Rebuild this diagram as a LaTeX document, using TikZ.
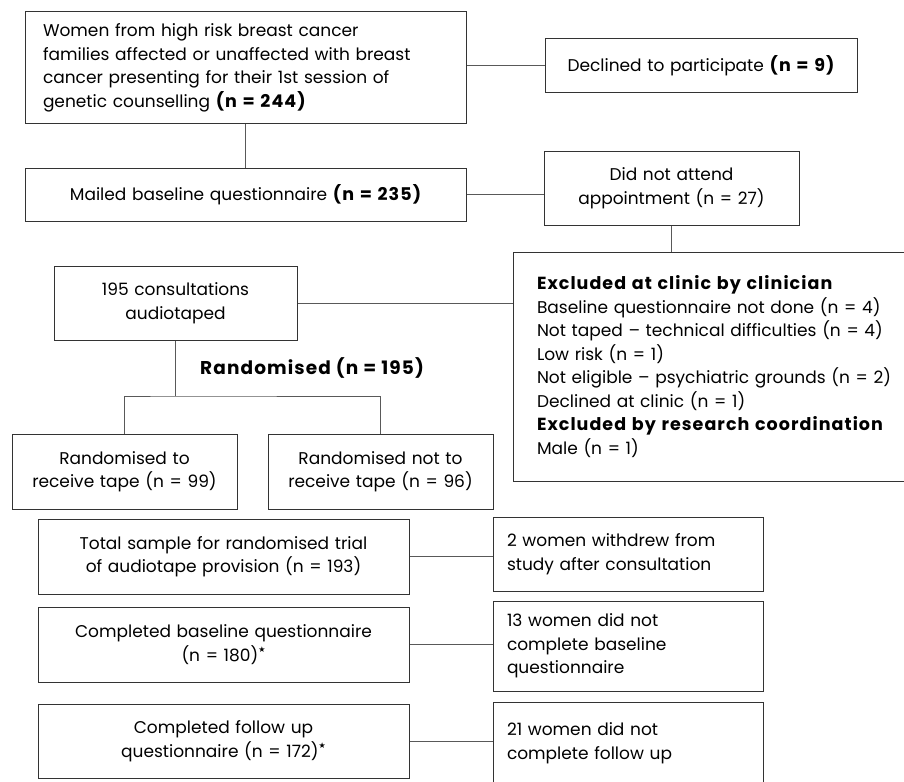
\documentclass[tikz,border=0pt]{standalone}
\usepackage{fontspec}
\setmainfont{Poppins}
\newfontfamily\heavyfont[LetterSpace=6]{Poppins}
\newfontfamily\starfont{DejaVu Sans}
\usepackage{tikz}
\usetikzlibrary{positioning}
\newlength{\mainwidth}
\setlength{\mainwidth}{441pt}
\newlength{\trialwidth}
\setlength{\trialwidth}{371pt}
\newlength{\armwidth}
\setlength{\armwidth}{225pt}
\newlength{\sidewidth}
\setlength{\sidewidth}{242pt}
\newlength{\colshift}
\setlength{\colshift}{304.5pt}
\newcommand{\fnstar}{\raisebox{0.5em}{\starfont\fontsize{8pt}{8pt}\selectfont ★}}
\newcommand{\heavy}[1]{{\heavyfont\fontsize{17.5pt}{23.5pt}\selectfont\bfseries #1}}
\tikzstyle{block} = [rectangle, draw=black!80, line width=1pt, text centered, inner xsep=0pt, inner ysep=0pt, font=\fontsize{17pt}{23.5pt}\selectfont]
\tikzstyle{note} = [rectangle, draw=black!80, line width=1pt, align=left, inner xsep=14pt, inner ysep=0pt, font=\fontsize{17pt}{23.5pt}\selectfont]
\tikzstyle{line} = [draw=black!65, line width=1pt]

\begin{document}
\begin{tikzpicture}[node distance=100pt]

    \useasboundingbox (0,0) rectangle (904pt,-781pt);

    % Recruitment
    \node (women) [note, inner xsep=18pt, text width=405pt, minimum height=112pt] at (245.5pt,-68pt) {Women from high risk breast cancer\\ families affected or unaffected with breast\\ cancer presenting for their 1st session of\\ genetic counselling \heavy{(n = 244)}};
    \node (declined) [block, right of=women, xshift=355.5pt, yshift=2pt, text width=312pt, minimum height=54pt] {Declined to participate \heavy{(n = 9)}};

    \node (mailed) [block, below of=women, yshift=-26.5pt, text width=\mainwidth, minimum height=53pt] {Mailed baseline questionnaire \heavy{(n = 235)}};
    \node (absent) [block, right of=mailed, xshift=326pt, yshift=6.5pt, text width=255pt, minimum height=74pt] {Did not attend\\ appointment (n = 27)};

    % Exclusions
    \node (excluded) [note, below of=absent, xshift=50pt, yshift=-78.5pt, inner xsep=24pt, text width=369pt, minimum height=229pt] {\heavy{Excluded at clinic by clinician}\\ Baseline questionnaire not done (n = 4)\\ Not taped \textendash{} technical difficulties (n = 4)\\ Low risk (n = 1)\\ Not eligible \textendash{} psychiatric grounds (n = 2)\\ Declined at clinic (n = 1)\\ \heavy{Excluded by research coordination}\\ Male (n = 1)};

    % Randomisation
    \node (taped) [block, below of=mailed, xshift=-70pt, yshift=-8.5pt, text width=243pt, minimum height=74pt] {195 consultations\\ audiotaped};
    \node (randlabel) [right of=taped, xshift=36.5pt, yshift=-65pt, font=\heavyfont\fontsize{18.5pt}{24pt}\selectfont\bfseries] {Randomised (n = 195)};
    \coordinate [below of=taped, yshift=7pt] (split);

    \node (tape) [block, below of=taped, xshift=-51pt, yshift=-68.5pt, text width=\armwidth, minimum height=75pt] {Randomised to\\ receive tape (n = 99)};
    \node (notape) [block, right of=tape, xshift=156pt, text width=\armwidth, minimum height=75pt] {Randomised not to\\ receive tape (n = 96)};

    % Trial sample
    \node (total) [block, below of=tape, xshift=99pt, yshift=15pt, text width=\trialwidth, minimum height=75pt] {Total sample for randomised trial\\ of audiotape provision (n = 193)};
    \node (baseline) [block, below of=total, yshift=12pt, text width=\trialwidth, minimum height=75pt] {Completed baseline questionnaire\\ (n = 180)\fnstar};
    \node (followup) [block, below of=baseline, yshift=3.5pt, text width=\trialwidth, minimum height=74pt] {Completed follow up\\ questionnaire (n = 172)\fnstar};

    \node (withdrew) [note, right of=total, xshift=\colshift, yshift=2.5pt, text width=\sidewidth, minimum height=74pt] {2 women withdrew from\\ study after consultation};
    \node (nobaseline) [note, right of=baseline, xshift=\colshift, yshift=-1.5pt, text width=\sidewidth, minimum height=90pt] {13 women did not\\ complete baseline\\ questionnaire};
    \node (nofollowup) [note, right of=followup, xshift=\colshift, yshift=-2pt, text width=\sidewidth, minimum height=82pt] {21 women did not\\ complete follow up};

    % Connectors
    \draw [line] (women) -- (mailed);
    \draw [line] (declined.west) -- (declined.west -| women.east);
    \draw [line] (mailed.east) -- (mailed.east -| absent.west);
    \draw [line] (absent.south) -- (absent.south |- excluded.north);
    \draw [line] (taped.east) -- (taped.east -| excluded.west);
    \draw [line] (taped) -- (split);
    \draw [line] (tape.north) |- (split) -| (notape.north);
    \draw [line] (total.east) -- (total.east -| withdrew.west);
    \draw [line] (baseline.east) -- (baseline.east -| nobaseline.west);
    \draw [line] (followup.east) -- (followup.east -| nofollowup.west);

\end{tikzpicture}
\end{document}
